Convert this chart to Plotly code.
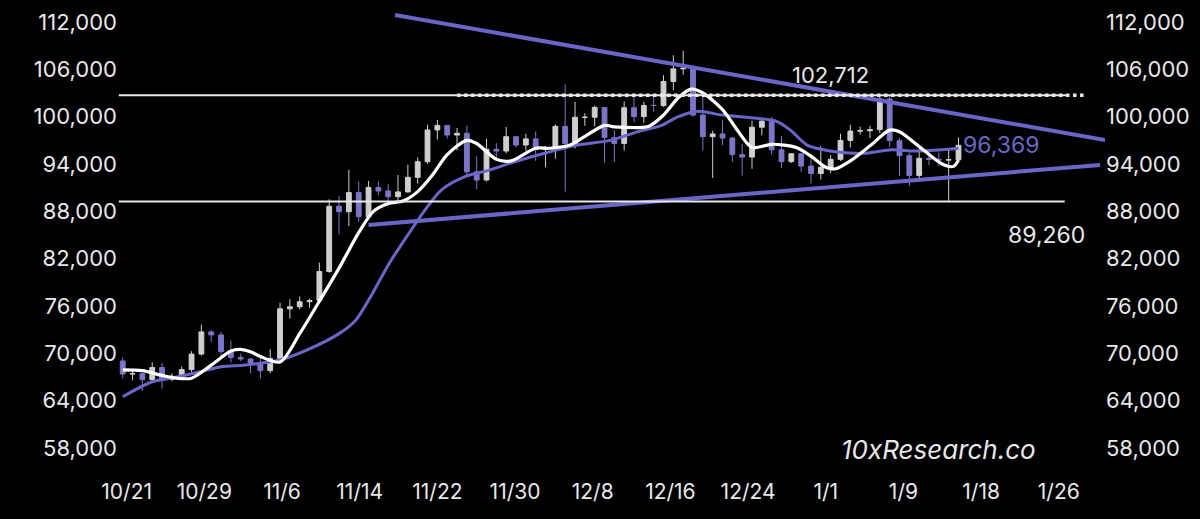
import plotly.graph_objects as go

# ---------------- data ----------------
day_labels = ["10/21","10/22","10/23","10/24","10/25","10/26","10/27","10/28","10/29","10/30","10/31",
              "11/1","11/2","11/3","11/4","11/5","11/6","11/7","11/8","11/9","11/10","11/11","11/12",
              "11/13","11/14","11/15","11/16","11/17","11/18","11/19","11/20","11/21","11/22","11/23",
              "11/24","11/25","11/26","11/27","11/28","11/29","11/30","12/1","12/2","12/3","12/4",
              "12/5","12/6","12/7","12/8","12/9","12/10","12/11","12/12","12/13","12/14","12/15",
              "12/16","12/17","12/18","12/19","12/20","12/21","12/22","12/23","12/24","12/25","12/26",
              "12/27","12/28","12/29","12/30","12/31","1/1","1/2","1/3","1/4","1/5","1/6","1/7","1/8",
              "1/9","1/10","1/11","1/12","1/13","1/14"]

open_ = [69032,67378,67426,66668,68198,66698,67093,67940,69907,72720,72339,70216,69482,69289,68741,
         67811,69359,75640,75905,76539,76699,80370,88648,87953,90375,87326,91032,90587,89855,90464,
         92310,94286,98317,98892,97672,97900,93010,91966,95863,95644,97461,96407,97185,95840,95995,
         98768,96593,99920,99924,101170,97356,96611,101125,100004,101424,101420,104463,106058,106133,
         100204,97461,97805,97291,95186,94877,98663,99430,95792,94299,95300,93738,92792,93576,94591,
         96984,98174,98220,98364,102235,96954,95060,92552,94726,94599,94511,94535]
high = [69500,67836,67472,68850,68800,67454,68332,70270,73620,72961,72700,71632,69950,69389,69480,
        70522,76400,76850,77199,76932,81500,89530,89940,93265,91790,91850,91779,91449,92594,93905,
        94831,98988,99588,98767,98564,98871,94973,97208,96650,98694,97463,97836,98130,96305,99000,
        104088,101898,100439,101399,101215,98270,101936,102540,101895,102650,105250,107793,108353,
        106524,102800,98233,99540,97448,96539,99488,99569,99963,97544,95300,95340,95024,96250,95149,
        97839,98976,98734,98836,102480,102724,97258,95382,95837,95050,95450,95900,97371]
low = [66835,66571,65260,66456,65522,66439,66913,67618,69730,71437,69685,68821,69020,67478,66803,
       67458,69298,74417,75559,75773,76492,80216,85072,86127,86668,87073,90057,88722,89376,90358,
       91500,94014,97122,97232,95735,92600,90791,91792,94610,95346,96092,95694,94395,93579,94660,
       90500,95981,98845,98771,94150,94256,95700,99311,99205,100610,101237,103333,105321,100000,
       95700,92232,96398,94250,92520,93397,97632,95199,93500,94117,93010,91530,92033,92870,94392,
       96100,97735,97276,97900,96181,92500,91203,92207,93831,93712,89256,94346]
close = [67378,67426,66668,68198,66698,67093,67940,69907,72720,72339,70215,69482,69289,68741,67811,
         69359,75640,75905,76539,76699,80370,88647,87953,90375,87326,91032,90587,89855,90464,92310,
         94286,98317,98892,97672,97900,93010,91966,95863,95643,97461,96407,97185,95840,95995,98768,
         96593,99920,99924,101170,97356,96611,101125,100004,101424,101420,104463,106058,106133,100204,
         97461,97805,97291,95186,94877,98663,99430,95792,94299,95300,93738,92792,93576,94591,96984,
         98174,98220,98364,102235,96954,95060,92552,94726,94599,94511,94535,96369]

# fast moving average (white) – read at day offsets from 10/21
fast_ma_day = [0,2,4,5.5,7,9,11,12,13,14,16,18,20,22,24,25.5,27,28.5,30,31.5,33,35,36,38,39.5,42,43.5,
               45.5,47,49,50,53.5,55,56.5,57.8,59,61,62.5,64,66,68.5,70,71.5,72.5,74,76,78,79,81.5,
               83.5,84.5,85]
fast_ma_val = [67900,67800,67200,66850,66850,68500,70300,70500,70200,69600,68900,72500,76600,80800,
               85300,88000,89000,89300,90500,92600,95200,97000,96600,94600,94400,96000,96000,96400,
               97500,98900,98700,98800,100200,102400,103500,103000,100900,98300,96100,96500,96100,
               95000,93600,93400,94400,96300,98300,98100,95700,93900,93700,94500]

# slow moving average (purple)
slow_ma_day = [0,3,5.5,8,10,12.3,14,16,18.7,22,23.7,25.4,27.1,28.4,30.7,32.4,34.8,37.2,39.9,43,46.2,
               49.6,52.4,54.8,56.5,58.5,61,64.5,66.5,67.9,69.6,71.3,72.5,75.4,78.2,80.5,83.3,85]
slow_ma_val = [64500,66400,67000,67700,68300,68500,68750,69150,70400,72500,74200,77600,81400,83900,
               88100,90700,92400,93200,94300,95400,96400,97000,98100,98900,100000,100700,100200,99800,
               99400,98300,96400,95800,95550,95350,95800,95650,95800,96000]

# triangle trend lines (start / end day, start / end price)
upper_trend_day = [27.7, 99.9]
upper_trend_val = [112890, 97040]
lower_trend_day = [25.0, 99.4]
lower_trend_val = [86270, 93880]

# horizontal levels
resistance_level = 102712
support_level = 89260
last_close_label = 96369

x_tick_labels = ["10/21","10/29","11/6","11/14","11/22","11/30","12/8","12/16","12/24","1/1","1/9","1/18","1/26"]
y_ticks = [58000,64000,70000,76000,82000,88000,94000,100000,106000,112000]

# ---------------- styling ----------------
WHITE = "#e8e8e8"
CANDLE_UP = "#cfcfcf"
CANDLE_DN = "#7b76c8"
PURPLE = "#6a66c8"
FONT = "Inter"

x = list(range(len(day_labels)))

fig = go.Figure()

fig.add_trace(go.Candlestick(
    x=x, open=open_, high=high, low=low, close=close,
    increasing=dict(line=dict(color=CANDLE_UP, width=1), fillcolor=CANDLE_UP),
    decreasing=dict(line=dict(color=CANDLE_DN, width=1), fillcolor=CANDLE_DN),
    whiskerwidth=0, showlegend=False, hoverinfo="skip"))

fig.add_trace(go.Scatter(x=slow_ma_day, y=slow_ma_val, mode="lines",
                         line=dict(color=PURPLE, width=3, shape="spline", smoothing=0.8),
                         showlegend=False, hoverinfo="skip"))
fig.add_trace(go.Scatter(x=fast_ma_day, y=fast_ma_val, mode="lines",
                         line=dict(color="#ffffff", width=3.2, shape="spline", smoothing=0.8),
                         showlegend=False, hoverinfo="skip"))

# trend lines
fig.add_trace(go.Scatter(x=upper_trend_day, y=upper_trend_val, mode="lines",
                         line=dict(color=PURPLE, width=4), showlegend=False, hoverinfo="skip",
                         cliponaxis=False))
fig.add_trace(go.Scatter(x=lower_trend_day, y=lower_trend_val, mode="lines",
                         line=dict(color=PURPLE, width=4), showlegend=False, hoverinfo="skip",
                         cliponaxis=False))

# horizontal levels
fig.add_shape(type="line", xref="x", yref="y", x0=-0.4, x1=96.0, y0=resistance_level, y1=resistance_level,
              line=dict(color=WHITE, width=2))
fig.add_shape(type="line", xref="x", yref="y", x0=34.0, x1=98.0, y0=resistance_level, y1=resistance_level,
              line=dict(color=WHITE, width=3.5, dash="dot"))
fig.add_shape(type="line", xref="x", yref="y", x0=-0.4, x1=95.8, y0=support_level, y1=support_level,
              line=dict(color=WHITE, width=2))

# dummy trace for right axis
fig.add_trace(go.Scatter(x=[0], y=[y_ticks[0]], yaxis="y2", mode="markers",
                         marker=dict(opacity=0), showlegend=False, hoverinfo="skip"))

# annotations
fig.add_annotation(x=72.0, y=resistance_level + 2600, text=f"{resistance_level:,}", showarrow=False,
                   font=dict(family=FONT, size=22, color=WHITE), xanchor="center", yanchor="middle")
fig.add_annotation(x=94.0, y=support_level - 4200, text=f"{support_level:,}", showarrow=False,
                   font=dict(family=FONT, size=23, color=WHITE), xanchor="center", yanchor="middle")
fig.add_annotation(x=89.4, y=last_close_label, text=f"{last_close_label:,}", showarrow=False,
                   font=dict(family=FONT, size=23, color=PURPLE), xanchor="center", yanchor="middle")
fig.add_annotation(x=83.0, y=57800, text="<i>10xResearch.co</i>", showarrow=False,
                   font=dict(family=FONT, size=26, color=WHITE), xanchor="center", yanchor="middle")

tick_pos = [0.4 + 7.9 * i for i in range(len(x_tick_labels))]
y_range = [55340, 113521]

fig.update_layout(
    width=1200, height=519,
    paper_bgcolor="#000000", plot_bgcolor="#000000",
    margin=dict(l=118, r=95, t=10, b=50),
    showlegend=False,
    xaxis=dict(range=[-0.48, 99.9], tickvals=tick_pos, ticktext=x_tick_labels,
               showgrid=False, zeroline=False, showline=False, ticks="outside", ticklen=4,
               tickcolor="#000000", tickfont=dict(family=FONT, size=21, color=WHITE),
               rangeslider=dict(visible=False), fixedrange=True),
    yaxis=dict(range=y_range, tickvals=y_ticks, ticktext=[f"{v:,}" for v in y_ticks],
               showgrid=False, zeroline=False, showline=False,
               tickfont=dict(family=FONT, size=22, color=WHITE)),
    yaxis2=dict(range=y_range, tickvals=y_ticks, ticktext=[f"{v:,}" for v in y_ticks],
                overlaying="y", side="right", showgrid=False, zeroline=False, showline=False,
                tickfont=dict(family=FONT, size=22, color=WHITE)),
)

fig.write_html("out.html", config={"displayModeBar": False},
               post_script="document.body.style.margin='0';document.body.style.background='#000';"
                           "document.documentElement.style.background='#000';")
